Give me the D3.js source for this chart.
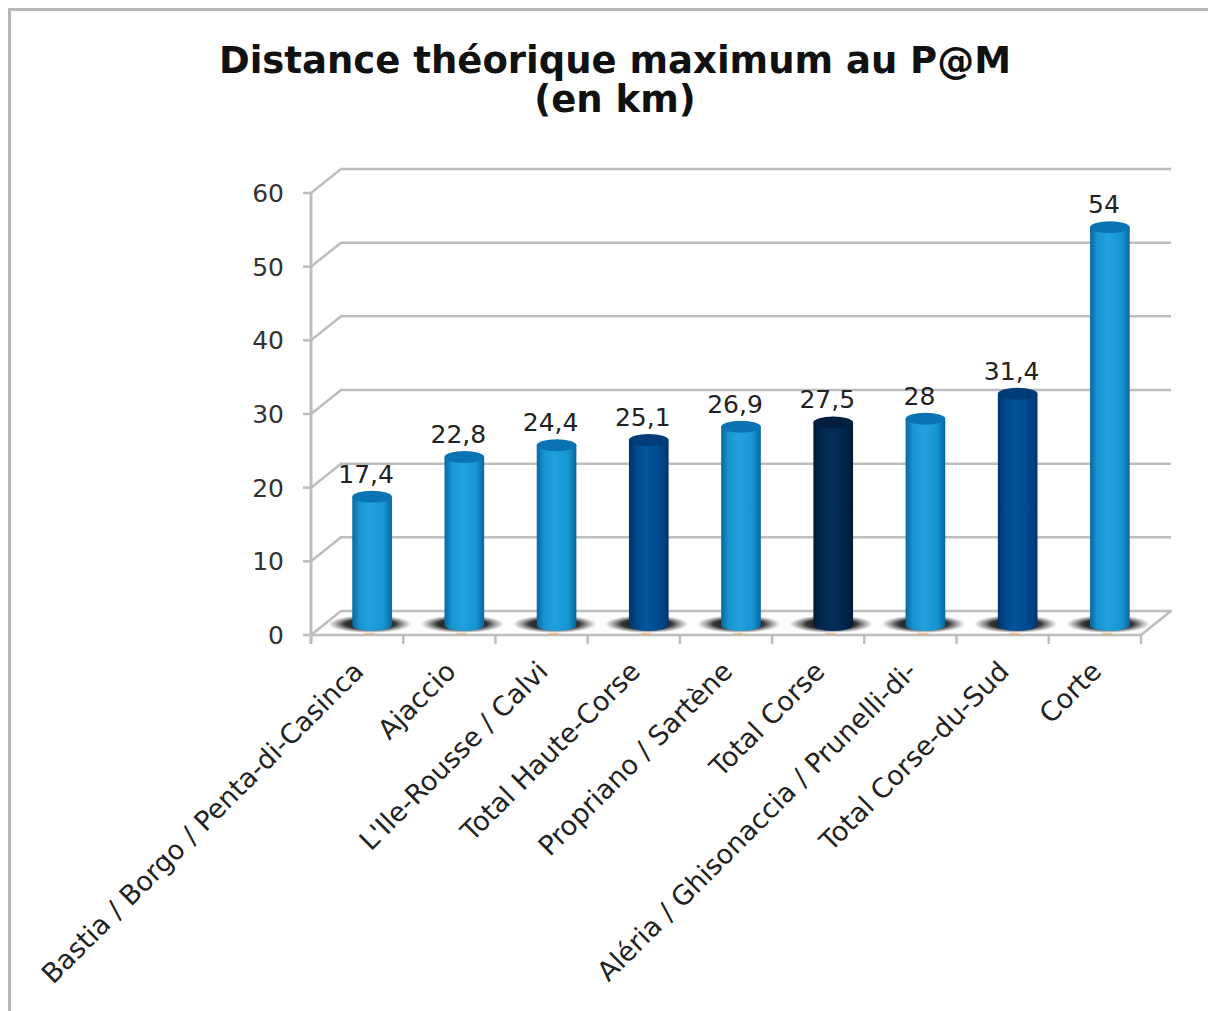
<!DOCTYPE html>
<html lang="fr">
<head>
<meta charset="UTF-8">
<title>Distance théorique maximum au P@M</title>
<script src="https://d3js.org/d3.v7.min.js"></script>
<style>
  body { margin: 0; background: #fff; font-family: "DejaVu Sans", Verdana, sans-serif; }
</style>
</head>
<body>
<div id="chart"></div>
<script>
// data
const categories = [
  "Bastia / Borgo / Penta-di-Casinca",
  "Ajaccio",
  "L'Ile-Rousse / Calvi",
  "Total Haute-Corse",
  "Propriano / Sartène",
  "Total Corse",
  "Aléria / Ghisonaccia / Prunelli-di-",
  "Total Corse-du-Sud",
  "Corte"
];
const values = [17.4, 22.8, 24.4, 25.1, 26.9, 27.5, 28, 31.4, 54];
// zone = city group, dept = department total, region = Corsica total
const levels = ["zone", "zone", "zone", "dept", "zone", "region", "zone", "dept", "zone"];
const yTicks = [0, 10, 20, 30, 40, 50, 60];

const width = 1208, height = 1011;
const depth = { dx: 30, dy: -24 };   // back wall offset of the 3D box

const fr = d3.formatLocale({ decimal: ",", thousands: " ", grouping: [3], currency: ["", "€"] });
const fmt = fr.format("~f");

const svg = d3.select("#chart").append("svg")
  .attr("width", width)
  .attr("height", height);

// outer frame
svg.append("path")
  .attr("d", `M9.5,${height + 5} V9.5 H${width + 5}`)
  .attr("fill", "none")
  .attr("stroke", "#b8b8b8")
  .attr("stroke-width", 3);

// title
const title = svg.append("text")
  .attr("text-anchor", "middle")
  .attr("font-weight", "bold")
  .attr("font-size", 37)
  .attr("fill", "#111");
title.append("tspan").attr("x", 615).attr("y", 73).text("Distance théorique maximum au P@M");
title.append("tspan").attr("x", 615).attr("y", 112).text("(en km)");

const x = d3.scaleBand().domain(categories).range([311, 1141]);
const y = d3.scaleLinear().domain([0, 60]).range([635, 193]);

// gradients
const defs = svg.append("defs");
const palettes = {
  zone:   { edge: "#08679f", mid: "#1794d1", hi: "#22a2dc", top: "#0a74b2" },
  dept:   { edge: "#00336a", mid: "#00488b", hi: "#05549a", top: "#003c78" },
  region: { edge: "#001a36", mid: "#00264c", hi: "#032f5a", top: "#001f40" }
};
Object.entries(palettes).forEach(([k, p]) => {
  const g = defs.append("linearGradient").attr("id", "cyl-" + k)
    .attr("x1", "0%").attr("x2", "100%").attr("y1", "0%").attr("y2", "0%");
  g.append("stop").attr("offset", "0%").attr("stop-color", p.edge);
  g.append("stop").attr("offset", "18%").attr("stop-color", p.mid);
  g.append("stop").attr("offset", "45%").attr("stop-color", p.hi);
  g.append("stop").attr("offset", "80%").attr("stop-color", p.mid);
  g.append("stop").attr("offset", "100%").attr("stop-color", p.edge);
});
const sh = defs.append("radialGradient").attr("id", "shadow");
sh.append("stop").attr("offset", "0%").attr("stop-color", "#000").attr("stop-opacity", 1);
sh.append("stop").attr("offset", "60%").attr("stop-color", "#111").attr("stop-opacity", 0.85);
sh.append("stop").attr("offset", "100%").attr("stop-color", "#444").attr("stop-opacity", 0);

const gridColor = "#bdbdbd";

// back wall gridlines (front tick -> diagonal -> back horizontal)
const x0 = x.range()[0], x1 = x.range()[1];
svg.append("g").selectAll("path")
  .data(yTicks.filter(t => t > 0))
  .join("path")
  .attr("d", t => `M${x0},${y(t)} L${x0 + depth.dx},${y(t) + depth.dy} H${x1 + depth.dx}`)
  .attr("fill", "none")
  .attr("stroke", gridColor)
  .attr("stroke-width", 2.5);

// floor
svg.append("path")
  .attr("d", `M${x0},${y(0)} H${x1} L${x1 + depth.dx},${y(0) + depth.dy} H${x0 + depth.dx} Z`)
  .attr("fill", "#fdfdfd")
  .attr("stroke", gridColor)
  .attr("stroke-width", 2.5)
  .attr("stroke-linejoin", "round");

// y axis
svg.append("line")
  .attr("x1", x0).attr("x2", x0)
  .attr("y1", y(60)).attr("y2", y(0) + 8)
  .attr("stroke", gridColor).attr("stroke-width", 3);
const yt = svg.append("g").selectAll("g").data(yTicks).join("g")
  .attr("transform", t => `translate(0,${y(t)})`);
yt.append("line").attr("x1", x0 - 8).attr("x2", x0).attr("stroke", gridColor).attr("stroke-width", 2.5);
yt.append("text")
  .attr("x", x0 - 27).attr("dy", "0.36em")
  .attr("text-anchor", "end")
  .attr("font-size", 25)
  .attr("fill", "#333")
  .text(t => t);

// category ticks
svg.append("g").selectAll("line")
  .data(d3.range(categories.length + 1))
  .join("line")
  .attr("x1", i => x0 + i * x.step()).attr("x2", i => x0 + i * x.step())
  .attr("y1", y(0)).attr("y2", y(0) + 9)
  .attr("stroke", gridColor).attr("stroke-width", 2.5);

// bars as cylinders
const bw = x.bandwidth() * 0.43;
const rx = bw / 2, ry = 6;
const bars = svg.append("g").selectAll("g")
  .data(categories.map((c, i) => ({ c, v: values[i], lvl: levels[i] })))
  .join("g")
  .attr("transform", d => `translate(${x(d.c) + x.bandwidth() / 2 + depth.dx / 2},${depth.dy / 2 + 2})`);

bars.append("ellipse")
  .attr("cx", -2).attr("cy", y(0) - 1)
  .attr("rx", rx + 22).attr("ry", 9)
  .attr("fill", "url(#shadow)");
bars.append("line")
  .attr("x1", -8).attr("x2", 2)
  .attr("y1", y(0) - depth.dy / 2 - 3).attr("y2", y(0) - depth.dy / 2 - 3)
  .attr("stroke", "#f2a64a").attr("stroke-width", 1.5).attr("opacity", 0.7);
bars.append("path")
  .attr("d", d => `M${-rx},${y(d.v)} V${y(0)} A${rx},${ry} 0 0 0 ${rx},${y(0)} V${y(d.v)} Z`)
  .attr("fill", d => `url(#cyl-${d.lvl})`);
bars.append("ellipse")
  .attr("cx", 0).attr("cy", d => y(d.v))
  .attr("rx", rx).attr("ry", ry)
  .attr("fill", d => palettes[d.lvl].top);

// value labels
bars.append("text")
  .attr("x", -6)
  .attr("y", d => y(d.v) - 14)
  .attr("text-anchor", "middle")
  .attr("font-size", 25)
  .attr("fill", "#222")
  .text(d => fmt(d.v));

// category labels, rotated
svg.append("g").selectAll("text")
  .data(categories)
  .join("text")
  .attr("transform", c => `translate(${x(c) + x.bandwidth() / 2 + 8},${y(0) + 38}) rotate(-45)`)
  .attr("text-anchor", "end")
  .attr("font-size", 27)
  .attr("fill", "#222")
  .text(c => c);
</script>
</body>
</html>
